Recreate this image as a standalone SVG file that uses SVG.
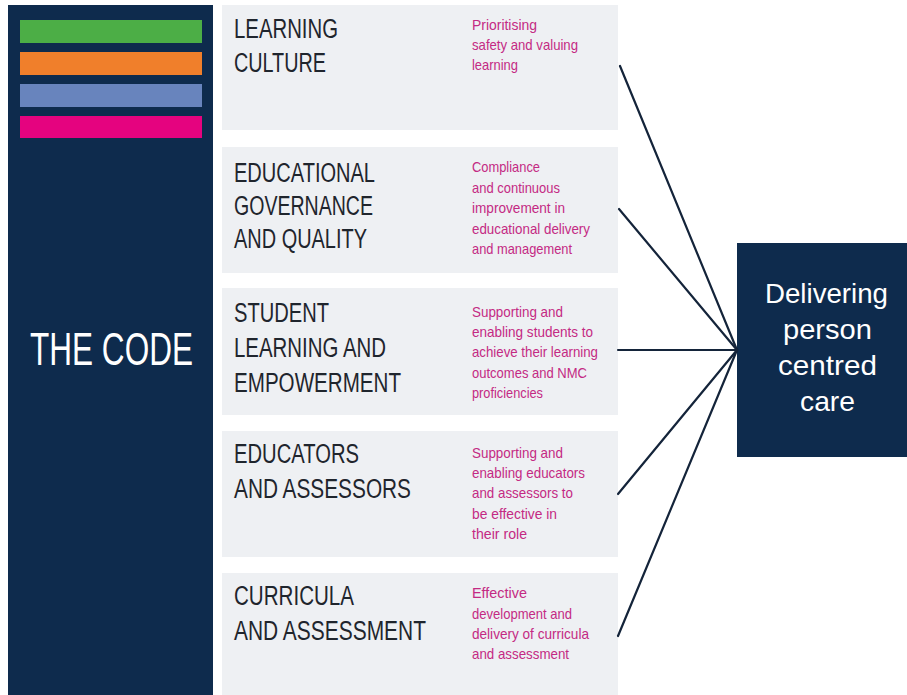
<svg xmlns="http://www.w3.org/2000/svg" width="907" height="695" viewBox="0 0 907 695">
  <defs>
    <style>
      .navy { fill: #0e2b4d; }
      .row { fill: #eef0f3; }
      .head { font-family: "Liberation Sans", Arial, sans-serif; font-size: 27px; fill: #1f252d; }
      .desc { font-family: "Liberation Sans", Arial, sans-serif; font-size: 14.5px; fill: #c42a83; }
      .white { font-family: "Liberation Sans", Arial, sans-serif; fill: #ffffff; }
      .link { stroke: #14243a; stroke-width: 2.2; fill: none; stroke-linecap: round; }
    </style>
  </defs>

  <rect width="907" height="695" fill="#ffffff"/>

  <!-- Left column: The Code -->
  <g id="the-code">
    <rect class="navy" x="8" y="5" width="205" height="690"/>
    <rect x="20" y="20" width="182" height="23" fill="#4cae46"/>
    <rect x="20" y="52" width="182" height="23" fill="#f07f2b"/>
    <rect x="20" y="84" width="182" height="23" fill="#6884bd"/>
    <rect x="20" y="116" width="182" height="22" fill="#e5037f"/>
    <text class="white" x="30" y="365" font-size="46" textLength="163" lengthAdjust="spacingAndGlyphs">THE CODE</text>
  </g>

  <!-- Standard rows -->
  <g id="learning-culture">
    <rect class="row" x="222" y="5" width="396" height="125"/>
    <text class="head" x="234" y="38" textLength="104" lengthAdjust="spacingAndGlyphs">LEARNING</text>
    <text class="head" x="234" y="72" textLength="92" lengthAdjust="spacingAndGlyphs">CULTURE</text>
    <text class="desc" x="472" y="30" textLength="65" lengthAdjust="spacingAndGlyphs">Prioritising</text>
    <text class="desc" x="472" y="50" textLength="106" lengthAdjust="spacingAndGlyphs">safety and valuing</text>
    <text class="desc" x="472" y="70" textLength="46" lengthAdjust="spacingAndGlyphs">learning</text>
  </g>

  <g id="educational-governance">
    <rect class="row" x="222" y="147" width="396" height="126"/>
    <text class="head" x="234" y="182" textLength="141" lengthAdjust="spacingAndGlyphs">EDUCATIONAL</text>
    <text class="head" x="234" y="215" textLength="139" lengthAdjust="spacingAndGlyphs">GOVERNANCE</text>
    <text class="head" x="234" y="248" textLength="133" lengthAdjust="spacingAndGlyphs">AND QUALITY</text>
    <text class="desc" x="472" y="172" textLength="68" lengthAdjust="spacingAndGlyphs">Compliance</text>
    <text class="desc" x="472" y="193" textLength="88" lengthAdjust="spacingAndGlyphs">and continuous</text>
    <text class="desc" x="472" y="213" textLength="93" lengthAdjust="spacingAndGlyphs">improvement in</text>
    <text class="desc" x="472" y="234" textLength="118" lengthAdjust="spacingAndGlyphs">educational delivery</text>
    <text class="desc" x="472" y="254" textLength="100" lengthAdjust="spacingAndGlyphs">and management</text>
  </g>

  <g id="student-learning">
    <rect class="row" x="222" y="288" width="396" height="127"/>
    <text class="head" x="234" y="322" textLength="95" lengthAdjust="spacingAndGlyphs">STUDENT</text>
    <text class="head" x="234" y="357" textLength="152" lengthAdjust="spacingAndGlyphs">LEARNING AND</text>
    <text class="head" x="234" y="392" textLength="167" lengthAdjust="spacingAndGlyphs">EMPOWERMENT</text>
    <text class="desc" x="472" y="317" textLength="91" lengthAdjust="spacingAndGlyphs">Supporting and</text>
    <text class="desc" x="472" y="337" textLength="121" lengthAdjust="spacingAndGlyphs">enabling students to</text>
    <text class="desc" x="472" y="357" textLength="126" lengthAdjust="spacingAndGlyphs">achieve their learning</text>
    <text class="desc" x="472" y="378" textLength="115" lengthAdjust="spacingAndGlyphs">outcomes and NMC</text>
    <text class="desc" x="472" y="398" textLength="71" lengthAdjust="spacingAndGlyphs">proficiencies</text>
  </g>

  <g id="educators-assessors">
    <rect class="row" x="222" y="431" width="396" height="126"/>
    <text class="head" x="234" y="463" textLength="125" lengthAdjust="spacingAndGlyphs">EDUCATORS</text>
    <text class="head" x="234" y="498" textLength="177" lengthAdjust="spacingAndGlyphs">AND ASSESSORS</text>
    <text class="desc" x="472" y="458" textLength="91" lengthAdjust="spacingAndGlyphs">Supporting and</text>
    <text class="desc" x="472" y="478" textLength="113" lengthAdjust="spacingAndGlyphs">enabling educators</text>
    <text class="desc" x="472" y="498" textLength="101" lengthAdjust="spacingAndGlyphs">and assessors to</text>
    <text class="desc" x="472" y="519" textLength="85" lengthAdjust="spacingAndGlyphs">be effective in</text>
    <text class="desc" x="472" y="539" textLength="55" lengthAdjust="spacingAndGlyphs">their role</text>
  </g>

  <g id="curricula-assessment">
    <rect class="row" x="222" y="573" width="396" height="122"/>
    <text class="head" x="234" y="605" textLength="120" lengthAdjust="spacingAndGlyphs">CURRICULA</text>
    <text class="head" x="234" y="640" textLength="192" lengthAdjust="spacingAndGlyphs">AND ASSESSMENT</text>
    <text class="desc" x="472" y="598" textLength="55" lengthAdjust="spacingAndGlyphs">Effective</text>
    <text class="desc" x="472" y="619" textLength="100" lengthAdjust="spacingAndGlyphs">development and</text>
    <text class="desc" x="472" y="639" textLength="117" lengthAdjust="spacingAndGlyphs">delivery of curricula</text>
    <text class="desc" x="472" y="659" textLength="97" lengthAdjust="spacingAndGlyphs">and assessment</text>
  </g>

  <!-- Outcome box -->
  <g id="person-centred-care">
    <rect class="navy" x="737" y="243" width="170" height="214"/>
    <text class="white" x="765" y="303" font-size="28" textLength="123" lengthAdjust="spacingAndGlyphs">Delivering</text>
    <text class="white" x="783" y="339" font-size="28" textLength="89" lengthAdjust="spacingAndGlyphs">person</text>
    <text class="white" x="778" y="375" font-size="28" textLength="99" lengthAdjust="spacingAndGlyphs">centred</text>
    <text class="white" x="800" y="411" font-size="28" textLength="55" lengthAdjust="spacingAndGlyphs">care</text>
  </g>

  <!-- Connectors converging on the outcome box -->
  <g id="connectors">
    <line class="link" x1="620" y1="66" x2="737" y2="350"/>
    <line class="link" x1="619" y1="209" x2="737" y2="350"/>
    <line class="link" x1="618" y1="350" x2="737" y2="350"/>
    <line class="link" x1="618" y1="494" x2="737" y2="350"/>
    <line class="link" x1="618" y1="636" x2="737" y2="350"/>
  </g>
</svg>
